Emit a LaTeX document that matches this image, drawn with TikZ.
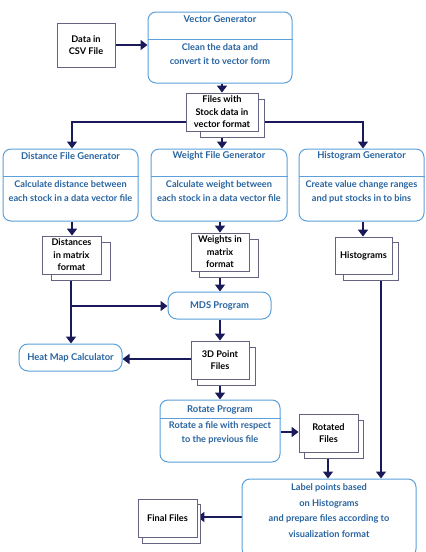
\documentclass[tikz,border=0pt]{standalone}
\usepackage{fontspec}
\setmainfont{Lato}
\usetikzlibrary{arrows.meta,backgrounds,calc}
\definecolor{boxblue}{RGB}{91,160,218}
\definecolor{txtblue}{RGB}{40,100,160}
\definecolor{navy}{RGB}{26,26,90}
\definecolor{filegray}{RGB}{100,100,130}
\tikzset{
  proc/.style={draw=boxblue,line width=1pt,rounded corners=8pt,fill=white,inner sep=0pt},
  ttl/.style={text=txtblue,font=\bfseries\fontsize{9.4}{10}\selectfont,inner sep=0pt,align=center},
  body/.style={text=txtblue,font=\bfseries\fontsize{9.2}{14}\selectfont,inner sep=0pt,align=center},
  divline/.style={draw=boxblue,line width=1pt},
  filebox/.style={draw=filegray,line width=0.8pt,fill=white,inner sep=0pt,align=center,
    font=\bfseries\fontsize{9.2}{12.5}\selectfont,text=black},
  arr/.style={draw=navy,line width=1.5pt,-{Triangle[length=7pt,width=10pt]}},
  ln/.style={draw=navy,line width=1.5pt}
}
\newcommand{\boxat}[5]{% name, x1,y1,x2,y2
  \node[proc,minimum width={#4-#2},minimum height={#5-#3}] (#1) at ({(#2+#4)/2},{(#3+#5)/2}) {};}
\newcommand{\filestack}[9]{% name, front x1 y1 x2 y2, back x1 y1 x2 y2
  \node[filebox,minimum width={#8-#6},minimum height={#9-#7}] (#1b) at ({(#6+#8)/2},{(#7+#9)/2}) {};
  \node[filebox,minimum width={#4-#2},minimum height={#5-#3}] (#1) at ({(#2+#4)/2},{(#3+#5)/2}) {};}
\begin{document}
\begin{tikzpicture}[x=1pt,y=-1pt]
\useasboundingbox (0,0) rectangle (426,552);
% CSV
\node[filebox,minimum width=58pt,minimum height=44pt] (csv) at (86,45) {Data in\\CSV File};
% Vector generator
\boxat{vg}{148}{12}{292}{83}
\draw[divline] (vg.west |- 0,39) -- (vg.east |- 0,39);
\node[ttl] (vgt) at (220,19) {Vector Generator};
\node[body] (vgb) at (220,54) {Clean the data and\\convert it to vector form};
% Files with stock data
\filestack{files}{186}{93}{258}{131}{200}{99}{264}{137}
\node[filebox,draw=none,fill=none] (filest) at (files) {Files with\\Stock data in\\vector format};
% Generators
\boxat{dfg}{3}{149}{138}{221}
\draw[divline] (dfg.west |- 0,176) -- (dfg.east |- 0,176);
\node[ttl] (dfgt) at (70.5,156) {Distance File Generator};
\node[body] (dfgb) at (70.5,191.5) {Calculate distance between\\each stock in a data vector file};
\boxat{wfg}{151}{149}{287}{221}
\draw[divline] (wfg.west |- 0,176) -- (wfg.east |- 0,176);
\node[ttl] (wfgt) at (219,156) {Weight File Generator};
\node[body] (wfgb) at (219,191.5) {Calculate weight between\\each stock in a data vector file};
\boxat{hg}{299}{149}{424}{221}
\draw[divline] (hg.west |- 0,176) -- (hg.east |- 0,176);
\node[ttl] (hgt) at (361.5,156) {Histogram Generator};
\node[body] (hgb) at (361.5,191.5) {Create value change ranges\\and put stocks in to bins};
% File outputs
\filestack{dist}{42}{236}{101}{274}{51}{242}{110}{280}
\node[filebox,draw=none,fill=none] (distt) at (dist) {Distances\\in matrix\\format};
\filestack{wts}{191}{233}{249}{271}{199}{239}{258}{277}
\node[filebox,draw=none,fill=none] (wtst) at (wts) {Weights in\\matrix\\format};
\filestack{hist}{335}{237}{392}{274}{343}{242}{398}{280}
\node[filebox,draw=none,fill=none] (histt) at (hist) {Histograms};
% MDS
\node[proc,rounded corners=9pt,minimum width=103pt,minimum height=27pt,ttl] (mds) at (219.5,305.5) {MDS Program};
% Heat map
\node[proc,rounded corners=9pt,minimum width=103pt,minimum height=27pt,ttl] (heat) at (70.5,357.5) {Heat Map Calculator};
% 3D point files
\filestack{pts}{191}{341}{249}{379}{197}{347}{255}{385}
\node[filebox,draw=none,fill=none] (ptst) at (pts) {3D Point\\Files};
% Rotate program
\boxat{rot}{160}{400}{280}{462}
\draw[divline] (rot.west |- 0,418) -- (rot.east |- 0,418);
\node[ttl] (rott) at (220,410) {Rotate Program};
\node[body] (rotb) at (220,433) {Rotate a file with respect\\to the previous file};
% Rotated files
\filestack{rtd}{299}{414}{358}{452}{304}{420}{363}{458}
\node[filebox,draw=none,fill=none] (rtdt) at (rtd) {Rotated\\Files};
% Label box
\boxat{lab}{242}{479}{416}{557}
\node[body,font=\bfseries\fontsize{9.2}{15.6}\selectfont] (labt) at (329,510.5) {Label points based\\on Histograms\\and prepare files according to\\visualization format};
% Final files
\filestack{fin}{138}{499}{197}{537}{142}{504}{200}{543}
\node[filebox,draw=none,fill=none] (fint) at (fin) {Final Files};
% Connectors
\begin{pgfonlayer}{background}
\draw[arr] (csv.east) -- (vg.west |- csv.east);
\draw[arr] (vg.south -| files.north) -- (files.north);
\draw[arr] (files.south) -- (wfg.north -| files.south);
\draw[arr] ([yshift=-10pt]files.west) -| (dfg.north -| 72,0);
\draw[arr] ([yshift=-10pt]files.east) -| (hg.north -| 363,0);
\draw[arr] (dfg.south -| 72,0) -- (dist.north -| 72,0);
\draw[arr] (wfg.south -| 220,0) -- (wts.north -| 220,0);
\draw[arr] (hg.south -| 363,0) -- (hist.north -| 363,0);
\draw[arr] (dist.south -| 71,0) -- (heat.north -| 71,0);
\coordinate (br) at (71,306);
\draw[arr] (br) -- (mds.west |- br);
\draw[arr] (wts.south -| 220,0) -- (mds.north -| 220,0);
\draw[arr] (mds.south -| 220,0) -- (pts.north -| 220,0);
\draw[arr] (pts.west |- 0,359) -- (heat.east |- 0,359);
\draw[arr] (pts.south -| 220,0) -- (rot.north -| 220,0);
\draw[arr] (rot.east |- 0,432) -- (rtd.west |- 0,432);
\draw[arr] (rtd.south -| 328,0) -- (lab.north -| 328,0);
\draw[arr] (hist.south -| 381,0) -- (lab.north -| 381,0);
\draw[arr] (lab.west |- 0,517) -- (fin.east |- 0,517);
\end{pgfonlayer}
\end{tikzpicture}
\end{document}
